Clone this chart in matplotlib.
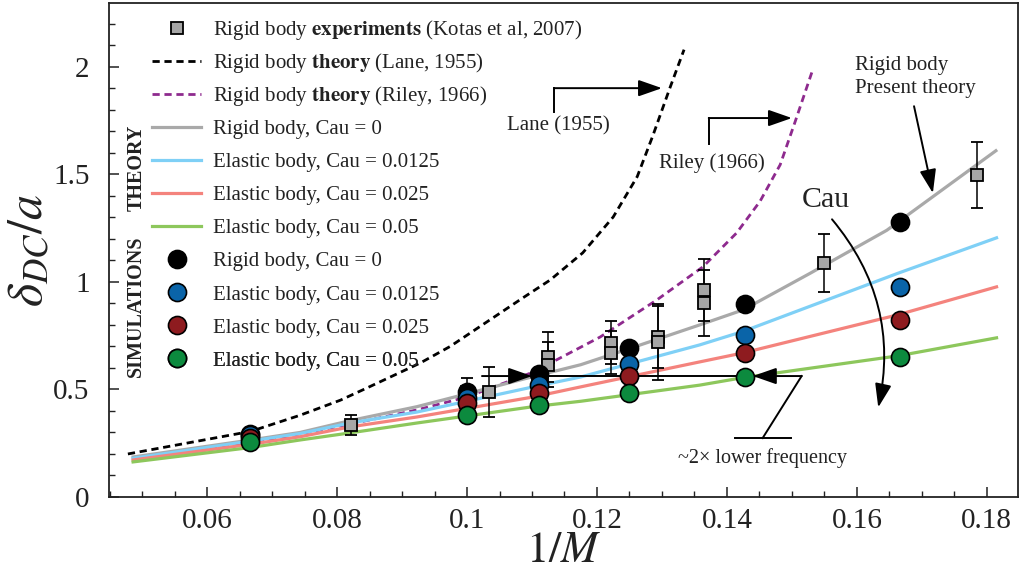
import matplotlib
matplotlib.use("Agg")
import matplotlib.pyplot as plt
from matplotlib.lines import Line2D
from matplotlib.ticker import MultipleLocator, FormatStrFormatter
from matplotlib.patches import FancyArrowPatch

plt.rcParams['font.family'] = ['Liberation Serif', 'DejaVu Serif']
plt.rcParams['mathtext.fontset'] = 'stix'
TXT = '#222222'

# ---------------- data ----------------
# Lane (1955) rigid body theory
lane_x = [0.0478, 0.0667, 0.0743, 0.0805, 0.0846, 0.0928, 0.0974, 0.1086, 0.1128,
          0.1178, 0.1225, 0.1262, 0.1286, 0.1312, 0.1334]
lane_y = [0.200, 0.305, 0.380, 0.450, 0.507, 0.623, 0.700, 0.926, 1.009,
          1.135, 1.302, 1.490, 1.680, 1.900, 2.080]
# Riley (1966) rigid body theory
riley_x = [0.0586, 0.0667, 0.0822, 0.0923, 0.1000, 0.1102, 0.1205, 0.1292, 0.1363,
           0.1415, 0.1451, 0.1482, 0.1505, 0.1532]
riley_y = [0.214, 0.250, 0.340, 0.405, 0.465, 0.581, 0.744, 0.916, 1.070,
           1.228, 1.375, 1.545, 1.745, 1.986]
# Present theory, rigid body (Cau = 0)
rig_x = [0.0486, 0.0667, 0.0743, 0.0820, 0.0923, 0.1000, 0.1102, 0.1175, 0.1250,
         0.1358, 0.1425, 0.1528, 0.1646, 0.1814]
rig_y = [0.186, 0.265, 0.300, 0.355, 0.420, 0.480, 0.560, 0.615, 0.690,
         0.800, 0.870, 1.040, 1.240, 1.610]
# Present theory, elastic bodies
el_x = [0.0486, 0.0667, 0.0743, 0.0820, 0.0923, 0.1102, 0.1175, 0.1358, 0.1425, 0.1663, 0.1815]
el0125_y = [0.180, 0.260, 0.295, 0.344, 0.395, 0.512, 0.558, 0.707, 0.770, 1.040, 1.205]
el025_y = [0.172, 0.245, 0.280, 0.326, 0.372, 0.465, 0.512, 0.628, 0.670, 0.847, 0.977]
el05_y = [0.163, 0.230, 0.265, 0.298, 0.344, 0.420, 0.445, 0.520, 0.555, 0.656, 0.740]

# Experiments (Kotas et al, 2007)
exp_x = [0.0822, 0.1000, 0.1034, 0.1125, 0.1125, 0.1222, 0.1222, 0.1294, 0.1294,
         0.1365, 0.1365, 0.1549, 0.1785]
exp_y = [0.335, 0.490, 0.488, 0.651, 0.615, 0.716, 0.670, 0.744, 0.720,
         0.963, 0.902, 1.088, 1.498]
exp_err = [0.047, 0.063, 0.118, 0.116, 0.105, 0.100, 0.100, 0.144, 0.176,
           0.143, 0.152, 0.133, 0.153]

# Simulations
sim_x = [1/15, 0.1, 1/9, 1/8, 1/7, 1/6]
sim_rigid = [0.295, 0.488, 0.572, 0.693, 0.898, 1.279]
sim_0125 = [0.290, 0.462, 0.521, 0.619, 0.753, 0.977]
sim_025 = [0.272, 0.437, 0.484, 0.563, 0.670, 0.823]
sim_05 = [0.254, 0.381, 0.428, 0.484, 0.558, 0.651]

xticks = [0.06, 0.08, 0.10, 0.12, 0.14, 0.16, 0.18]
yticks = [0, 0.5, 1.0, 1.5, 2.0]

legend_labels = [
    r'Rigid body $\mathbf{experiments}$ (Kotas et al, 2007)',
    r'Rigid body $\mathbf{theory}$ (Lane, 1955)',
    r'Rigid body $\mathbf{theory}$ (Riley, 1966)',
    'Rigid body, Cau = 0',
    'Elastic body, Cau = 0.0125',
    'Elastic body, Cau = 0.025',
    'Elastic body, Cau = 0.05',
    'Rigid body, Cau = 0',
    'Elastic body, Cau = 0.0125',
    'Elastic body, Cau = 0.025',
    'Elastic body, Cau = 0.05',
]

# colours
C_GRAY = '#a9a9a9'
C_LBLUE = '#7fd0f6'
C_SALMON = '#f4837d'
C_LGREEN = '#8dc75c'
C_PURPLE = '#8e2a8e'
C_BLUE = '#0a64a8'
C_RED = '#8e1b1f'
C_GREEN = '#0c8a3e'
C_SQ = '#a6a6a6'
DASH = (0, (2.6, 1.7))

fig = plt.figure(figsize=(10.23, 5.76), dpi=100)
ax = fig.add_axes([0.1066, 0.1372, 0.8885, 0.8576])

ax.plot(lane_x, lane_y, color='black', lw=2.0, ls=DASH, zorder=2)
ax.plot(riley_x, riley_y, color=C_PURPLE, lw=2.0, ls=DASH, zorder=2)
ax.plot(rig_x, rig_y, color=C_GRAY, lw=2.3, zorder=2)
ax.plot(el_x, el0125_y, color=C_LBLUE, lw=2.3, zorder=2)
ax.plot(el_x, el025_y, color=C_SALMON, lw=2.3, zorder=2)
ax.plot(el_x, el05_y, color=C_LGREEN, lw=2.3, zorder=2)

ax.errorbar(exp_x, exp_y, yerr=exp_err, fmt='s', ms=8, mfc=C_SQ, mec='black', mew=1.3,
            ecolor='black', elinewidth=1.1, capsize=4.5, capthick=1.1, zorder=4)

for ys, c in [(sim_rigid, 'black'), (sim_0125, C_BLUE), (sim_025, C_RED), (sim_05, C_GREEN)]:
    ax.plot(sim_x, ys, 'o', ms=13, mfc=c, mec='black', mew=1.2, ls='none', zorder=5)

ax.set_xlim(0.0449, 0.1848)
ax.set_ylim(0, 2.297)
ax.set_xticks(xticks)
ax.set_yticks(yticks)
ax.xaxis.set_minor_locator(MultipleLocator(0.005))
ax.yaxis.set_minor_locator(MultipleLocator(0.1))
ax.xaxis.set_major_formatter(FormatStrFormatter('%g'))
ax.yaxis.set_major_formatter(FormatStrFormatter('%g'))
ax.tick_params(which='both', direction='in', top=False, right=False, colors=TXT,
               labelsize=21)
ax.tick_params(which='major', length=7, width=1.1)
ax.tick_params(which='minor', length=4.5, width=1.0)
ax.tick_params(axis='y', pad=14)
ax.tick_params(axis='x', pad=8)
for s in ax.spines.values():
    s.set_linewidth(1.3)
    s.set_color('#222222')

ax.set_xlabel(r'$1/M$', fontsize=32, color=TXT, labelpad=-2)
ax.set_ylabel(r'$\delta_{DC}/a$', fontsize=36, color=TXT, labelpad=0)

# ---------------- legend (one row per legend for even spacing) ----------------
handles = [
    Line2D([], [], marker='s', ls='none', ms=8, mfc=C_SQ, mec='black', mew=1.3),
    Line2D([], [], color='black', lw=2.0, ls=DASH),
    Line2D([], [], color=C_PURPLE, lw=2.0, ls=DASH),
    Line2D([], [], color=C_GRAY, lw=2.3),
    Line2D([], [], color=C_LBLUE, lw=2.3),
    Line2D([], [], color=C_SALMON, lw=2.3),
    Line2D([], [], color=C_LGREEN, lw=2.3),
    Line2D([], [], marker='o', ls='none', ms=13, mfc='black', mec='black', mew=1.2),
    Line2D([], [], marker='o', ls='none', ms=13, mfc=C_BLUE, mec='black', mew=1.2),
    Line2D([], [], marker='o', ls='none', ms=13, mfc=C_RED, mec='black', mew=1.2),
    Line2D([], [], marker='o', ls='none', ms=13, mfc=C_GREEN, mec='black', mew=1.2),
]
ax_h_px = 494.0
for i, (h, lab) in enumerate(zip(handles, legend_labels)):
    yrow = 1 - (27 + 33.1 * i) / ax_h_px
    leg = ax.legend([h], [lab], loc='center left', bbox_to_anchor=(0.0473, yrow),
                    frameon=False, fontsize=15, borderpad=0, borderaxespad=0,
                    handlelength=2.35, handletextpad=0.58)
    for t in leg.get_texts():
        t.set_color(TXT)
    ax.add_artist(leg)

ax.text(0.0300, 0.387, 'SIMULATIONS', transform=ax.transAxes, rotation=90,
        fontsize=14.5, fontweight='bold', color=TXT, ha='center', va='center')
ax.text(0.0300, 0.667, 'THEORY', transform=ax.transAxes, rotation=90,
        fontsize=14.5, fontweight='bold', color=TXT, ha='center', va='center')

# ---------------- annotations ----------------
arr = dict(arrowstyle='-|>,head_length=0.8,head_width=0.28', color='black', lw=1.4,
           mutation_scale=18, shrinkA=0, shrinkB=0)

# Lane (1955)
ax.plot([0.1134, 0.1134], [1.789, 1.901], color='black', lw=1.4, zorder=3)
ax.annotate('', xy=(0.1300, 1.901), xytext=(0.1134, 1.901), arrowprops=arr, zorder=3)
ax.text(0.1140, 1.726, 'Lane (1955)', fontsize=15, color=TXT, ha='center', va='center')

# Riley (1966)
ax.plot([0.1372, 0.1372], [1.64, 1.762], color='black', lw=1.4, zorder=3)
ax.annotate('', xy=(0.1500, 1.762), xytext=(0.1372, 1.762), arrowprops=arr, zorder=3)
ax.text(0.1377, 1.552, 'Riley (1966)', fontsize=15, color=TXT, ha='center', va='center')

# Rigid body present theory
ax.text(0.1597, 1.952, 'Rigid body\nPresent theory', fontsize=15, color=TXT,
        ha='left', va='center', linespacing=1.3)
ax.annotate('', xy=(0.1717, 1.413), xytext=(0.1688, 1.817), arrowprops=arr, zorder=3)

# Cau curved arrow
ax.text(0.1515, 1.380, 'Cau', fontsize=21.5, color=TXT, ha='left', va='center')
cau_arr = FancyArrowPatch((0.1559, 1.301), (0.1632, 0.404),
                          connectionstyle='arc3,rad=-0.25',
                          arrowstyle='-|>,head_length=0.8,head_width=0.28',
                          mutation_scale=18, color='black', lw=1.4, zorder=3)
ax.add_patch(cau_arr)

# ~2x lower frequency bracket
yb = 0.5623
ax.plot([0.1100, 0.1440], [yb, yb], color='black', lw=1.4, zorder=3)
ax.annotate('', xy=(0.1100, yb), xytext=(0.1023, yb), arrowprops=arr, zorder=3)
ax.annotate('', xy=(0.1440, yb), xytext=(0.1515, yb), arrowprops=arr, zorder=3)
ax.plot([0.1515, 0.1455], [yb, 0.274], color='black', lw=1.4, zorder=3)
ax.plot([0.1412, 0.1499], [0.274, 0.274], color='black', lw=1.4, zorder=3)
ax.text(0.1455, 0.181, '~2× lower frequency', fontsize=14.5, color=TXT,
        ha='center', va='center')

fig.savefig('out.png', dpi=100)
